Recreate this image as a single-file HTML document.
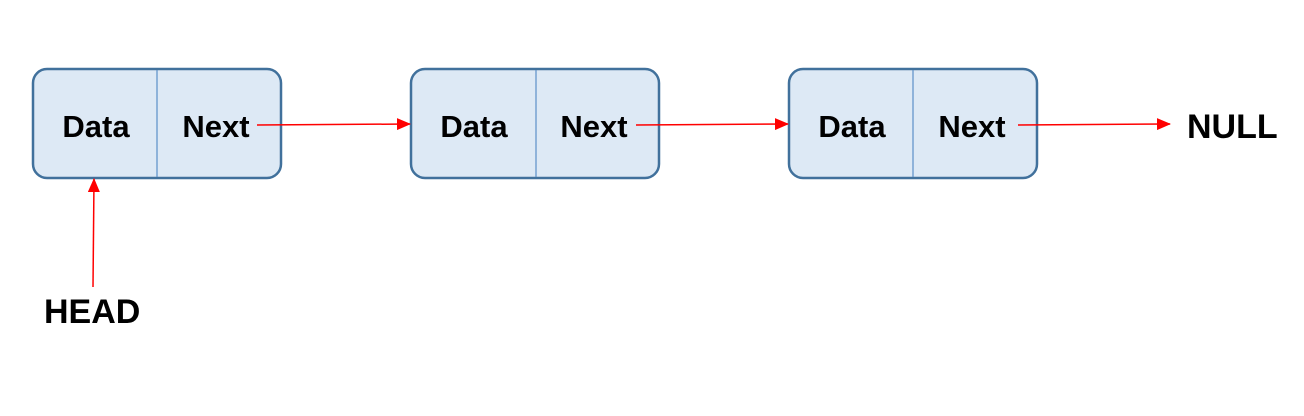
<!DOCTYPE html>
<html><head><style>
body{margin:0;width:1304px;height:411px;background:#fff;overflow:hidden}
text{font-family:"Liberation Sans",sans-serif;font-weight:bold;fill:#000}
</style></head><body>
<svg width="1304" height="411" xmlns="http://www.w3.org/2000/svg">
<defs>
<marker id="b" markerWidth="14" markerHeight="12" refX="13" refY="6" orient="auto" markerUnits="userSpaceOnUse" viewBox="0 0 14 12"><path d="M0,0 L14,6 L0,12z" fill="#f00"/></marker></defs>
<g stroke="#41719c" stroke-width="2.5" fill="#dde9f5">
<rect x="33" y="69" width="248" height="109" rx="14"/>
<rect x="411" y="69" width="248" height="109" rx="14"/>
<rect x="789" y="69" width="248" height="109" rx="14"/>
</g>
<g stroke="#5b8fc8" stroke-width="1.2">
<line x1="157" y1="70" x2="157" y2="177"/>
<line x1="536" y1="70" x2="536" y2="177"/>
<line x1="913" y1="70" x2="913" y2="177"/>
</g>
<g font-size="31" text-anchor="middle">
<text x="96" y="137">Data</text><text x="216" y="137">Next</text>
<text x="474" y="137">Data</text><text x="594" y="137">Next</text>
<text x="852" y="137">Data</text><text x="972" y="137">Next</text>
</g>
<g stroke="#f00" stroke-width="1.5" fill="none">
<line x1="257" y1="125" x2="410" y2="124" marker-end="url(#b)"/>
<line x1="636" y1="125" x2="788" y2="124" marker-end="url(#b)"/>
<line x1="1018" y1="125" x2="1170" y2="124" marker-end="url(#b)"/>
<line x1="93" y1="287" x2="94" y2="179" marker-end="url(#b)"/>
</g>
<text x="1187" y="138" font-size="34">NULL</text>
<text x="44" y="323" font-size="34">HEAD</text>
</svg>
</body></html>
